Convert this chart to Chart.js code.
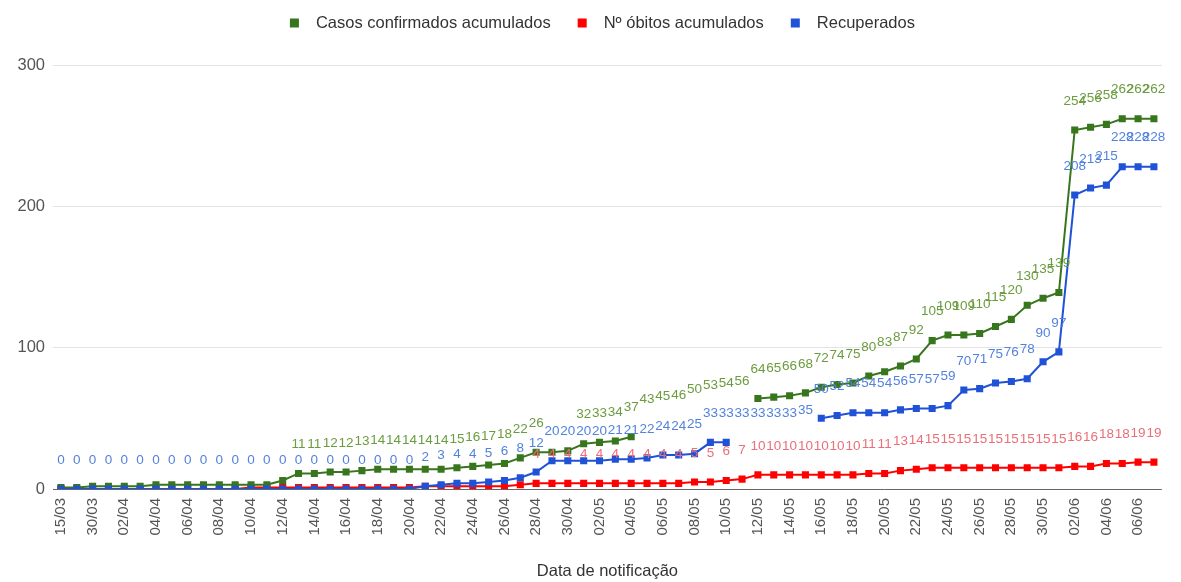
<!DOCTYPE html>
<html>
<head>
<meta charset="utf-8">
<script src="https://cdn.jsdelivr.net/npm/chart.js@4.4.1/dist/chart.umd.min.js"></script>
<style>
  html, body { margin: 0; padding: 0; background: #ffffff; }
  #wrap { width: 1181px; height: 582px; position: relative; }
</style>
</head>
<body>
<div id="wrap"><canvas id="c" width="1181" height="582"></canvas></div>
<script>
// ---- categories (data de notificação) ----
const datas = [
  '15/03','23/03','30/03','31/03','02/04','03/04','04/04','05/04','06/04','07/04',
  '08/04','09/04','10/04','11/04','12/04','13/04','14/04','15/04','16/04','17/04',
  '18/04','19/04','20/04','21/04','22/04','23/04','24/04','25/04','26/04','27/04',
  '28/04','29/04','30/04','01/05','02/05','03/05','04/05','05/05','06/05','07/05',
  '08/05','09/05','10/05','11/05','12/05','13/05','14/05','15/05','16/05','17/05',
  '18/05','19/05','20/05','21/05','22/05','23/05','24/05','25/05','26/05','27/05',
  '28/05','29/05','30/05','31/05','02/06','03/06','04/06','05/06','06/06','07/06'
];

// ---- series ----
const casosConfirmados = [
  1,1,2,2,2,2,3,3,3,3,
  3,3,3,3,6,11,11,12,12,13,
  14,14,14,14,14,15,16,17,18,22,
  26,26,27,32,33,34,37,43,45,46,
  50,53,54,56,64,65,66,68,72,74,
  75,80,83,87,92,105,109,109,110,115,
  120,130,135,139,254,256,258,262,262,262
];
const obitos = [
  0,0,0,0,0,0,0,0,0,0,
  0,0,1,1,1,1,1,1,1,1,
  1,1,1,2,2,2,2,2,2,3,
  4,4,4,4,4,4,4,4,4,4,
  5,5,6,7,10,10,10,10,10,10,
  10,11,11,13,14,15,15,15,15,15,
  15,15,15,15,16,16,18,18,19,19
];
const recuperados = [
  0,0,0,0,0,0,0,0,0,0,
  0,0,0,0,0,0,0,0,0,0,
  0,0,0,2,3,4,4,5,6,8,
  12,20,20,20,20,21,21,22,24,24,
  25,33,33,33,33,33,33,35,50,52,
  54,54,54,56,57,57,59,70,71,75,
  76,78,90,97,208,213,215,228,228,228
];

// ---- y axis ticks ----
const yTicks = [0, 100, 200, 300];

// points whose marker/line is not visible in the reference (label still shown)
const casosSemMarcador = [37,38,39,40,41,42,43];
const recuperadosSemMarcador = [43,44,45,46,47];

const FONT = '"Liberation Sans", Arial, Helvetica, sans-serif';
const COL_GREEN = '#38761d', COL_RED = '#ff0000', COL_BLUE = '#1f52d6';
const LBL_GREEN = '#6b9c3e', LBL_RED = '#ea6f78', LBL_BLUE = '#5282df';

function markerColors(n, hidden, color) {
  const arr = [];
  for (let i = 0; i < n; i++) arr.push(hidden.includes(i) ? 'rgba(0,0,0,0)' : color);
  return arr;
}
function segHider(hidden) {
  return ctx => (hidden.includes(ctx.p0DataIndex) || hidden.includes(ctx.p1DataIndex)) ? 'rgba(0,0,0,0)' : undefined;
}

const labelPlugin = {
  id: 'pointLabels',
  afterDatasetsDraw(chart) {
    const ctx = chart.ctx;
    const placed = [];
    const priority = [2, 0, 1];
    ctx.save();
    ctx.font = '13.5px ' + FONT;
    ctx.textAlign = 'center';
    ctx.textBaseline = 'middle';
    for (const di of priority) {
      const meta = chart.getDatasetMeta(di);
      const ds = chart.data.datasets[di];
      meta.data.forEach((pt, i) => {
        const txt = String(ds.data[i]);
        const w = ctx.measureText(txt).width;
        const x = pt.x, y = pt.y - 29;
        const b = { x1: x - w / 2, x2: x + w / 2, y1: y - 5, y2: y + 5, d: di };
        if (placed.some(p => p.d !== di && p.x1 < b.x2 && b.x1 < p.x2 && p.y1 < b.y2 && b.y1 < p.y2)) return;
        placed.push(b);
        ctx.fillStyle = ds.labelColor;
        ctx.fillText(txt, x, y);
      });
    }
    ctx.restore();
  }
};

const legendPlugin = {
  id: 'topLegend',
  afterDraw(chart) {
    const ctx = chart.ctx;
    ctx.save();
    ctx.font = '16.5px ' + FONT;
    ctx.textBaseline = 'middle';
    const box = 9, gapBT = 17, gapItem = 27;
    const items = chart.data.datasets.map(d => ({ t: d.label, c: d.borderColor, w: ctx.measureText(d.label).width }));
    let total = 0;
    items.forEach((it, k) => { total += box + gapBT + it.w + (k ? gapItem : 0); });
    const ca = chart.chartArea;
    let x = (ca.left + ca.right) / 2 - 5 - total / 2;
    const y = 23;
    items.forEach(it => {
      ctx.fillStyle = it.c;
      ctx.fillRect(x, y - box / 2, box, box);
      x += box + gapBT;
      ctx.fillStyle = '#333';
      ctx.fillText(it.t, x, y);
      x += it.w + gapItem;
    });
    ctx.restore();
  }
};

const datasets = [
  {
    label: 'Casos confirmados acumulados',
    data: casosConfirmados,
    borderColor: COL_GREEN,
    backgroundColor: COL_GREEN,
    pointBackgroundColor: markerColors(casosConfirmados.length, casosSemMarcador, COL_GREEN),
    pointBorderColor: markerColors(casosConfirmados.length, casosSemMarcador, COL_GREEN),
    segment: { borderColor: segHider(casosSemMarcador) },
    labelColor: LBL_GREEN,
    order: 1
  },
  {
    label: 'Nº óbitos acumulados',
    data: obitos,
    borderColor: COL_RED,
    backgroundColor: COL_RED,
    pointBackgroundColor: COL_RED,
    pointBorderColor: COL_RED,
    labelColor: LBL_RED,
    order: 2
  },
  {
    label: 'Recuperados',
    data: recuperados,
    borderColor: COL_BLUE,
    backgroundColor: COL_BLUE,
    pointBackgroundColor: markerColors(recuperados.length, recuperadosSemMarcador, COL_BLUE),
    pointBorderColor: markerColors(recuperados.length, recuperadosSemMarcador, COL_BLUE),
    segment: { borderColor: segHider(recuperadosSemMarcador) },
    labelColor: LBL_BLUE,
    order: 0
  }
];
datasets.forEach(d => Object.assign(d, {
  borderWidth: 2, pointStyle: 'rect', pointRadius: 5, pointBorderWidth: 0,
  pointHoverRadius: 5, tension: 0, fill: false
}));

new Chart(document.getElementById('c'), {
  type: 'line',
  data: { labels: datas, datasets },
  options: {
    responsive: false,
    devicePixelRatio: 1,
    animation: false,
    layout: { padding: { top: 65, right: 11, left: 0, bottom: 0 } },
    plugins: {
      legend: { display: false },
      tooltip: { enabled: false }
    },
    scales: {
      x: {
        offset: true,
        grid: { display: false, drawTicks: false },
        border: { display: false },
        ticks: {
          autoSkip: false, minRotation: 90, maxRotation: 90, padding: 9,
          color: '#555', font: { family: FONT, size: 15 },
          callback: (v, i) => (i % 2 === 0 ? datas[i] : '')
        },
        title: {
          display: true, text: 'Data de notificação', color: '#333',
          font: { family: FONT, size: 16.5 }, padding: { top: 0, bottom: 1 }
        },
        afterFit: s => { s.height = 93; }
      },
      y: {
        min: 0, max: 300,
        afterBuildTicks: s => { s.ticks = yTicks.map(v => ({ value: v })); },
        grid: {
          drawTicks: false,
          color: c => (c.tick && c.tick.value === 0 ? '#666666' : '#e3e3e3'),
          lineWidth: 1
        },
        border: { display: false },
        ticks: { padding: 8, color: '#555', font: { family: FONT, size: 16.5 } },
        afterFit: s => { s.width = 53; }
      }
    }
  },
  plugins: [labelPlugin, legendPlugin]
});
</script>
</body>
</html>
